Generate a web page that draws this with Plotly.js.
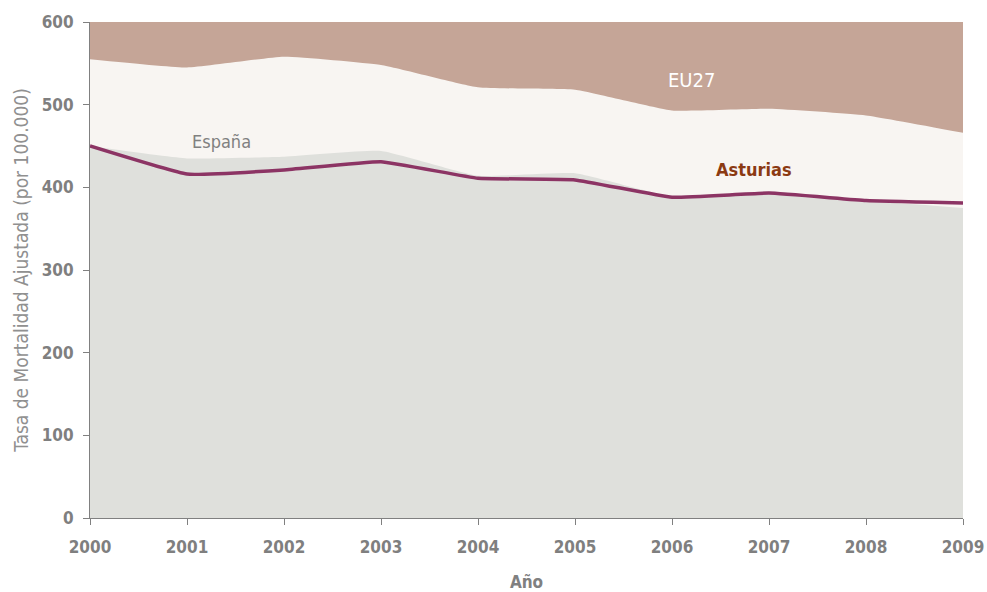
<!DOCTYPE html>
<html><head><meta charset="utf-8">
<script src="https://cdn.plot.ly/plotly-3.0.1.min.js"></script>
<style>html,body{margin:0;padding:0;background:#fff}#c{width:987px;height:592px}</style>
</head><body><div id="c"></div>
<script>
const years = [2000,2001,2002,2003,2004,2005,2006,2007,2008,2009];
const eu27 = [555,545,558,548,521,518,493,495,487,466];
const espana = [450,435,437,444,414,417,389,395,384,375];
const asturias = [450,416,421,431,411,409,388,393,384,381];
const FONT = '"Liberation Sans Narrow","DejaVu Sans Condensed","Liberation Sans",sans-serif';
const data = [
  {x: years, y: eu27, type:'scatter', mode:'lines', fill:'tozeroy', fillcolor:'#f8f5f2', line:{width:0, color:'#f8f5f2', shape:'spline', smoothing:0.4}, hoverinfo:'skip', name:'EU27'},
  {x: years, y: espana, type:'scatter', mode:'lines', fill:'tozeroy', fillcolor:'#dfe0dc', line:{width:0, color:'#dfe0dc', shape:'spline', smoothing:0.4}, name:'España'},
  {x: years, y: asturias, type:'scatter', mode:'lines', line:{width:3.5, color:'#8c3464', shape:'spline', smoothing:0.3}, name:'Asturias'}
];
const layout = {
  width:987, height:592,
  margin:{l:90, r:24, t:22, b:74},
  paper_bgcolor:'#ffffff', plot_bgcolor:'#c5a597',
  showlegend:false,
  font:{family:FONT, color:'#808080', size:16},
  xaxis:{range:[2000,2009], tickvals:years, ticktext:years.map(String), showgrid:false, zeroline:false,
    showline:true, linecolor:'#808080', linewidth:1, ticks:'outside', ticklen:6, tickcolor:'#808080',
    ticklabelstandoff:8,
    tickfont:{family:FONT, size:17, color:'#7f7f7f', weight:'bold'},
    title:{text:'Año', font:{family:FONT, size:17, color:'#808080', weight:'bold'}, standoff:22}},
  yaxis:{range:[0,600], tickvals:[0,100,200,300,400,500,600], showgrid:false, zeroline:false,
    showline:true, linecolor:'#808080', linewidth:1, ticks:'outside', ticklen:6, tickcolor:'#808080',
    ticklabelstandoff:6,
    tickfont:{family:FONT, size:17, color:'#7f7f7f', weight:'bold'},
    title:{text:'Tasa de Mortalidad Ajustada (por 100.000)', font:{family:FONT, size:19, color:'#909090'}, standoff:8}},
  annotations:[
    {x:2001.36, y:455, text:'España', showarrow:false, font:{family:FONT, size:18, color:'#808080'}},
    {x:2006.2, y:530, text:'EU27', showarrow:false, font:{family:FONT, size:20, color:'#ffffff'}},
    {x:2006.85, y:421, text:'Asturias', showarrow:false, font:{family:FONT, size:18, color:'#8b3a12', weight:'bold'}}
  ]
};
Plotly.newPlot('c', data, layout, {displayModeBar:false, staticPlot:true});
</script></body></html>
